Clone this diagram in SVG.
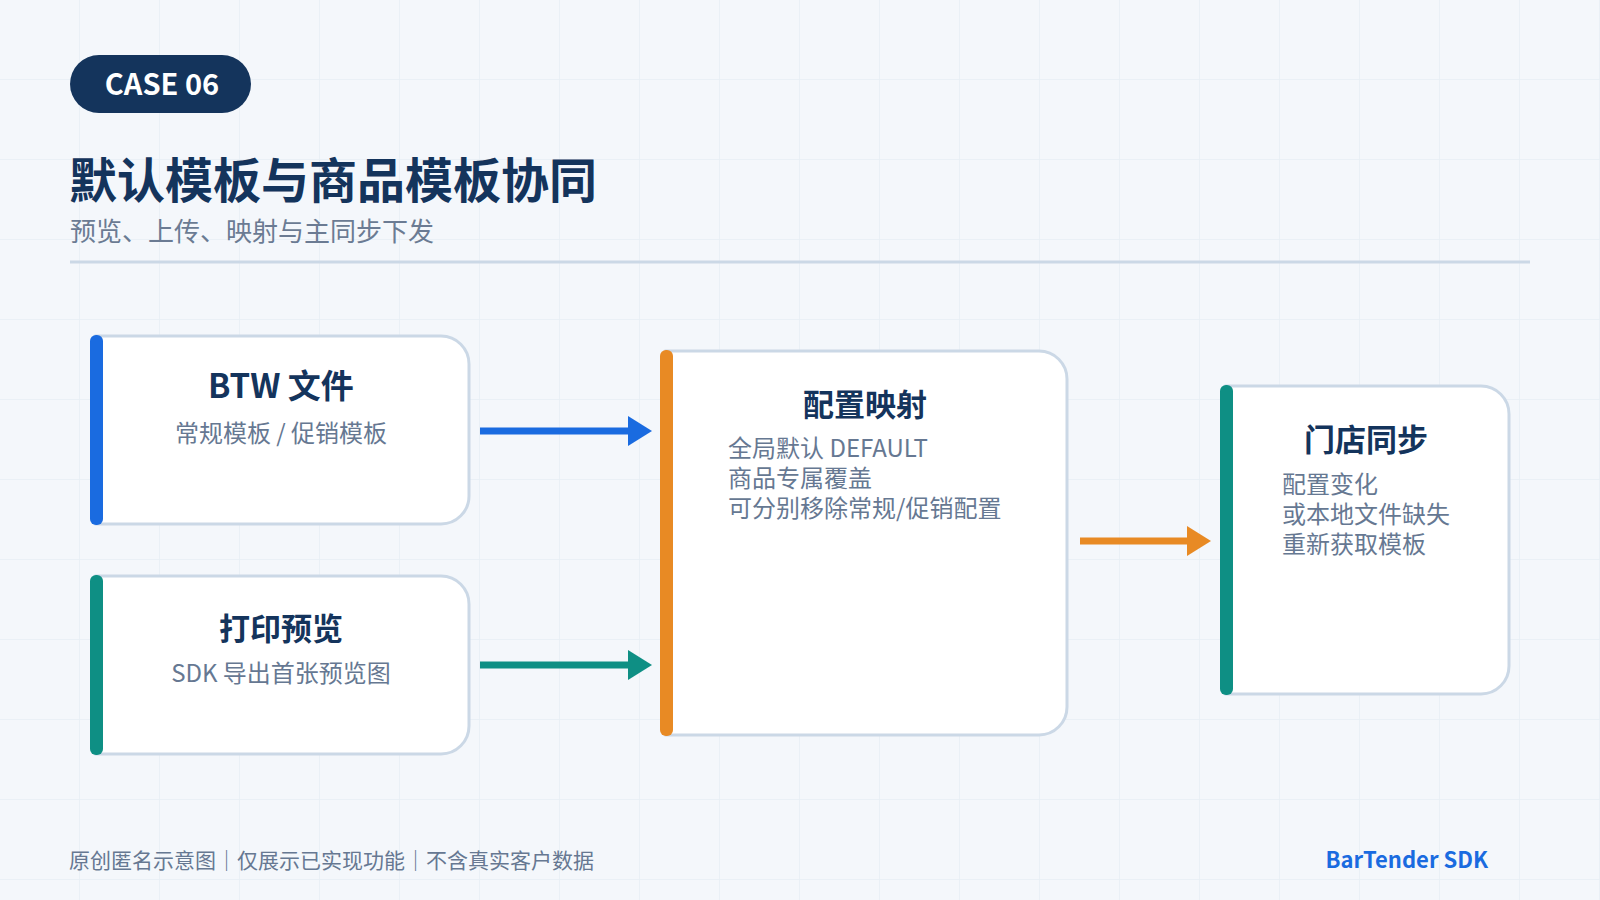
<svg xmlns="http://www.w3.org/2000/svg" width="1600" height="900" viewBox="0 0 1600 900">
<defs>
<pattern id="grid" x="0" y="0" width="80" height="80" patternUnits="userSpaceOnUse">
<path d="M80 0 V80 M0 80 H80" fill="none" stroke="#e8eef5" stroke-width="1.5"/>
</pattern>
<marker id="ah-blue" markerUnits="userSpaceOnUse" markerWidth="26" markerHeight="30" refX="2" refY="15" orient="auto"><path d="M0 0 L24 15 L0 30 Z" fill="#1a6be0"/></marker>
<marker id="ah-teal" markerUnits="userSpaceOnUse" markerWidth="26" markerHeight="30" refX="2" refY="15" orient="auto"><path d="M0 0 L24 15 L0 30 Z" fill="#0e8f84"/></marker>
<marker id="ah-orange" markerUnits="userSpaceOnUse" markerWidth="26" markerHeight="30" refX="2" refY="15" orient="auto"><path d="M0 0 L24 15 L0 30 Z" fill="#e88a24"/></marker>
<style>
text{font-family:"Noto Sans CJK SC","Noto Sans",sans-serif;}
.box{fill:#ffffff;stroke:#cbd8e6;stroke-width:3;}
.ntitle{font-size:31px;font-weight:700;fill:#14345c;text-anchor:middle;}
.nsub{font-size:24px;fill:#667892;}
.mid{text-anchor:middle;}
.conn{fill:none;stroke-width:7;}
</style>
</defs>
<rect width="1600" height="900" fill="#f4f7fb"/>
<rect width="1600" height="900" fill="url(#grid)"/>

<g id="header">
<rect x="70" y="55" width="181" height="58" rx="29" fill="#14345c"/>
<text x="162" y="95" font-size="29" font-weight="700" fill="#ffffff" text-anchor="middle">CASE 06</text>
<text x="69" y="198" font-size="48" font-weight="700" fill="#14345c">默认模板与商品模板协同</text>
<text x="70" y="241" font-size="26" fill="#6b7b93">预览、上传、映射与主同步下发</text>
<line x1="70" y1="262" x2="1530" y2="262" stroke="#cbd8e6" stroke-width="3"/>
</g>

<g id="connectors">
<line class="conn" x1="480" y1="431" x2="630" y2="431" stroke="#1a6be0" marker-end="url(#ah-blue)"/>
<line class="conn" x1="480" y1="665" x2="630" y2="665" stroke="#0e8f84" marker-end="url(#ah-teal)"/>
<line class="conn" x1="1080" y1="541" x2="1189" y2="541" stroke="#e88a24" marker-end="url(#ah-orange)"/>
</g>

<g id="node-btw">
<path class="box" d="M96 336 H441 A28 28 0 0 1 469 364 V496 A28 28 0 0 1 441 524 H96 Z"/>
<rect x="90" y="335" width="13" height="190" rx="6" fill="#1a6be0"/>
<text class="ntitle" x="281" y="398" style="font-size:33px">BTW 文件</text>
<text class="nsub mid" x="281" y="442">常规模板 / 促销模板</text>
</g>

<g id="node-preview">
<path class="box" d="M96 576 H441 A28 28 0 0 1 469 604 V726 A28 28 0 0 1 441 754 H96 Z"/>
<rect x="90" y="575" width="13" height="180" rx="6" fill="#0e8f84"/>
<text class="ntitle" x="281" y="640">打印预览</text>
<text class="nsub mid" x="281" y="682">SDK 导出首张预览图</text>
</g>

<g id="node-mapping">
<path class="box" d="M666 351 H1039 A28 28 0 0 1 1067 379 V707 A28 28 0 0 1 1039 735 H666 Z"/>
<rect x="660" y="350" width="13" height="386" rx="6" fill="#e88a24"/>
<text class="ntitle" x="865" y="416">配置映射</text>
<text class="nsub" x="728" y="457">全局默认 DEFAULT</text>
<text class="nsub" x="728" y="487">商品专属覆盖</text>
<text class="nsub" x="728" y="517">可分别移除常规/促销配置</text>
</g>

<g id="node-sync">
<path class="box" d="M1226 386 H1481 A28 28 0 0 1 1509 414 V666 A28 28 0 0 1 1481 694 H1226 Z"/>
<rect x="1220" y="385" width="13" height="310" rx="6" fill="#0e8f84"/>
<text class="ntitle" x="1366" y="451">门店同步</text>
<text class="nsub" x="1282" y="493">配置变化</text>
<text class="nsub" x="1282" y="523">或本地文件缺失</text>
<text class="nsub" x="1282" y="553">重新获取模板</text>
</g>

<g id="footer">
<text x="69" y="868" font-size="21" fill="#667892">原创匿名示意图｜仅展示已实现功能｜不含真实客户数据</text>
<text x="1488" y="868" font-size="22" font-weight="700" fill="#1a6be0" text-anchor="end">BarTender SDK</text>
</g>
</svg>
